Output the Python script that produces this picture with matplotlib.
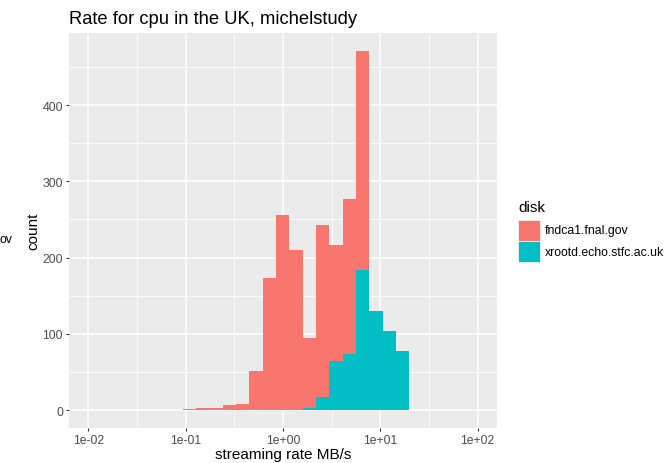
import numpy as np
import matplotlib.pyplot as plt
from matplotlib.patches import Rectangle
from matplotlib.ticker import FixedLocator, NullFormatter

plt.rcParams['font.family'] = ['Liberation Sans', 'DejaVu Sans']

# histogram bins (log10 of streaming rate, MB/s)
bin_start_log = -1.03
bin_width_log = 0.137
n_bins = 17

# counts per bin, bottom of stack first
xrootd_counts = [0, 0, 0, 0, 0, 0, 0, 0, 0, 3, 17, 64, 73, 184, 130, 104, 77]
fndca1_counts = [1, 3, 3, 7, 8, 51, 173, 256, 210, 91, 226, 153, 204, 287, 0, 0, 0]

disks = ['fndca1.fnal.gov', 'xrootd.echo.stfc.ac.uk']
disk_colors = ['#F8766D', '#00BFC4']

x_breaks = [1e-2, 1e-1, 1e0, 1e1, 1e2]
x_labels = ['1e-02', '1e-01', '1e+00', '1e+01', '1e+02']
y_breaks = [0, 100, 200, 300, 400]

W, H = 667, 464
fig = plt.figure(figsize=(W / 100, H / 100), dpi=100)
ax = fig.add_axes([69 / W, 1 - 429 / H, (497 - 69) / W, (429 - 34) / H])
ax.set_facecolor('#EBEBEB')

edges_log = bin_start_log + bin_width_log * np.arange(n_bins + 1)
left = 10 ** edges_log[:-1]
width = 10 ** edges_log[1:] - left
xr = np.array(xrootd_counts)
fn = np.array(fndca1_counts)
ax.bar(left, xr, width=width, align='edge', color=disk_colors[1], linewidth=0, zorder=2)
ax.bar(left, fn, width=width, align='edge', bottom=xr, color=disk_colors[0], linewidth=0, zorder=2)

ax.set_xscale('log')
ax.set_xlim(10 ** -2.2, 10 ** 2.2)
top = (xr + fn).max()
ax.set_ylim(-0.05 * top, 1.05 * top)

ax.xaxis.set_major_locator(FixedLocator(x_breaks))
ax.set_xticklabels(x_labels)
ax.xaxis.set_minor_locator(FixedLocator([10 ** v for v in (-1.5, -0.5, 0.5, 1.5)]))
ax.xaxis.set_minor_formatter(NullFormatter())
ax.set_yticks(y_breaks)
ax.yaxis.set_minor_locator(FixedLocator([50, 150, 250, 350, 450]))

ax.grid(which='major', color='white', linewidth=1.1, zorder=1)
ax.grid(which='minor', color='white', linewidth=0.55, zorder=1)
ax.set_axisbelow(True)
for s in ax.spines.values():
    s.set_visible(False)
ax.tick_params(which='major', length=2.3, width=0.8, color='#333333',
               labelcolor='#4D4D4D', labelsize=8.8, pad=2.0)
ax.tick_params(which='minor', length=0)

# titles
fig.text(69 / W, 1 - 24 / H, 'Rate for cpu in the UK, michelstudy', fontsize=13.2,
         va='baseline', ha='left')
fig.text(283 / W, 1 - 459 / H, 'streaming rate MB/s', fontsize=11, va='baseline', ha='center')
fig.text(33 / W, 1 - 231.5 / H, 'count', fontsize=11, rotation=90, va='center', ha='center')
fig.text(-1 / W, 1 - 240 / H, 'ov', fontsize=8.8, va='center', ha='left')

# legend
fig.text(518 / W, 1 - 212 / H, 'disk', fontsize=11, va='baseline', ha='left')
for i, (name, col) in enumerate(zip(disks, disk_colors)):
    y0 = 220.5 + i * 21.7
    fig.patches.append(Rectangle((518 / W, 1 - (y0 + 21) / H), 21.5 / W, 21 / H,
                                 transform=fig.transFigure, facecolor=col,
                                 edgecolor='#F2F2F2', linewidth=0.6))
    fig.text(545 / W, 1 - (y0 + 10.5) / H, name, fontsize=8.8, va='center', ha='left')

fig.savefig('out.png', dpi=100)
